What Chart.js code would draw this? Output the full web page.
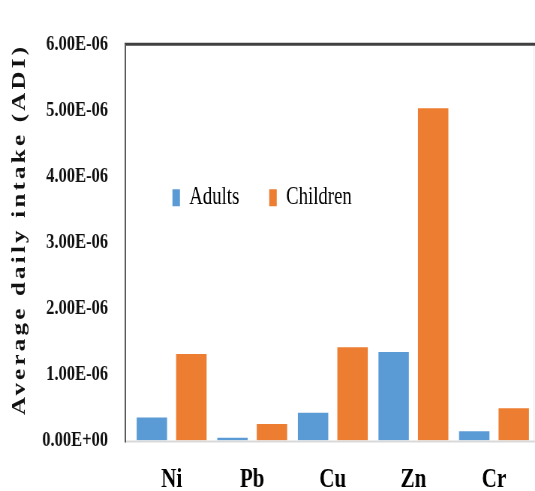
<!DOCTYPE html>
<html>
<head>
<meta charset="utf-8">
<script src="https://cdn.jsdelivr.net/npm/chart.js@4.4.1/dist/chart.umd.min.js"></script>
<style>
  html, body { margin: 0; padding: 0; background: #fff; overflow: hidden; }
  /* the original figure is narrow: draw wide, then squeeze horizontally */
  #wrap { width: 713px; height: 491px; transform: scaleX(0.7504); transform-origin: 0 0; }
</style>
</head>
<body>
<div id="wrap"><canvas id="chart"></canvas></div>
<script>
const metals = ['Ni', 'Pb', 'Cu', 'Zn', 'Cr'];
const adults = [3.5e-7, 4e-8, 4.2e-7, 1.34e-6, 1.4e-7];
const children = [1.31e-6, 2.5e-7, 1.41e-6, 5.03e-6, 4.9e-7];
const yTickLabels = ['0.00E+00', '1.00E-06', '2.00E-06', '3.00E-06', '4.00E-06', '5.00E-06', '6.00E-06'];
const yTitle = 'Average daily intake (ADI)';

const serif = '"Liberation Serif", "Times New Roman", serif';

const framePlugin = {
    id: 'frame',
    beforeUpdate(chart) {
        // keep the in-plot legend on one row
        if (chart.legend) chart.legend.isHorizontal = () => true;
    },
    afterLayout(chart) {
        // legend sits inside the plot, left of Cu
        const l = chart.legend;
        l.left = 190;
        l.right = chart.chartArea.right;
        l.top = 145.4;
        l.bottom = l.top + l.height;
    },
    afterDraw(chart) {
        const { ctx, chartArea: a, width } = chart;
        const x0 = a.left - 8;
        ctx.save();

        // faint right edge
        ctx.strokeStyle = '#e6e6e6'; ctx.lineWidth = 1;
        ctx.beginPath(); ctx.moveTo(width - 1.5, a.top); ctx.lineTo(width - 1.5, a.bottom); ctx.stroke();

        // x axis (light)
        ctx.strokeStyle = '#d9d9d9'; ctx.lineWidth = 2;
        ctx.beginPath(); ctx.moveTo(x0, a.bottom + 1); ctx.lineTo(width, a.bottom + 1); ctx.stroke();

        // top line
        ctx.strokeStyle = '#404040'; ctx.lineWidth = 3;
        ctx.beginPath(); ctx.moveTo(x0 - 1, a.top); ctx.lineTo(width, a.top); ctx.stroke();

        // y axis
        ctx.strokeStyle = '#595959'; ctx.lineWidth = 2;
        ctx.beginPath(); ctx.moveTo(x0, a.top); ctx.lineTo(x0, a.bottom + 2); ctx.stroke();

        // spaced-out y title, 368px long, centred on y = 231
        ctx.font = 'bold 25px ' + serif;
        ctx.fillStyle = '#111';
        ctx.letterSpacing = '0px';
        const w0 = ctx.measureText(yTitle).width;
        const sp = (368 - w0) / (yTitle.length - 1);
        ctx.letterSpacing = sp + 'px';
        ctx.translate(27, 231);
        ctx.rotate(-Math.PI / 2);
        ctx.textAlign = 'left';
        ctx.textBaseline = 'middle';
        ctx.fillText(yTitle, -184, 0);
        ctx.restore();
    }
};

new Chart(document.getElementById('chart'), {
    type: 'bar',
    data: {
        labels: metals,
        datasets: [
            { label: 'Adults', data: adults, backgroundColor: '#5b9bd5', borderWidth: 0 },
            { label: 'Children', data: children, backgroundColor: '#ed7d31', borderWidth: 0 }
        ]
    },
    options: {
        responsive: true, maintainAspectRatio: false, animation: false,
        layout: { padding: { top: 23, left: 0, right: 1, bottom: 0 } },
        datasets: { bar: { categoryPercentage: 0.98, barPercentage: 0.77 } },
        scales: {
            x: {
                grid: { display: false, drawTicks: false },
                border: { display: false },
                ticks: { color: '#000', padding: 22, font: { family: serif, size: 28, weight: 'bold' } },
                afterFit: (s) => { s.height = 50.5; }
            },
            y: {
                min: 0, max: 6e-6,
                grid: { display: false, drawTicks: false },
                border: { display: false },
                ticks: {
                    stepSize: 1e-6, color: '#111', padding: 31,
                    font: { family: serif, size: 22, weight: 'bold' },
                    callback: (v) => yTickLabels[Math.round(v / 1e-6)]
                },
                afterFit: (s) => { s.width = 175; }
            }
        },
        plugins: {
            legend: {
                position: 'chartArea', align: 'start',
                labels: { boxWidth: 10, boxHeight: 17, padding: 39.8, color: '#000', font: { family: serif, size: 25 } }
            },
            tooltip: { enabled: false }
        }
    },
    plugins: [framePlugin]
});
</script>
</body>
</html>
